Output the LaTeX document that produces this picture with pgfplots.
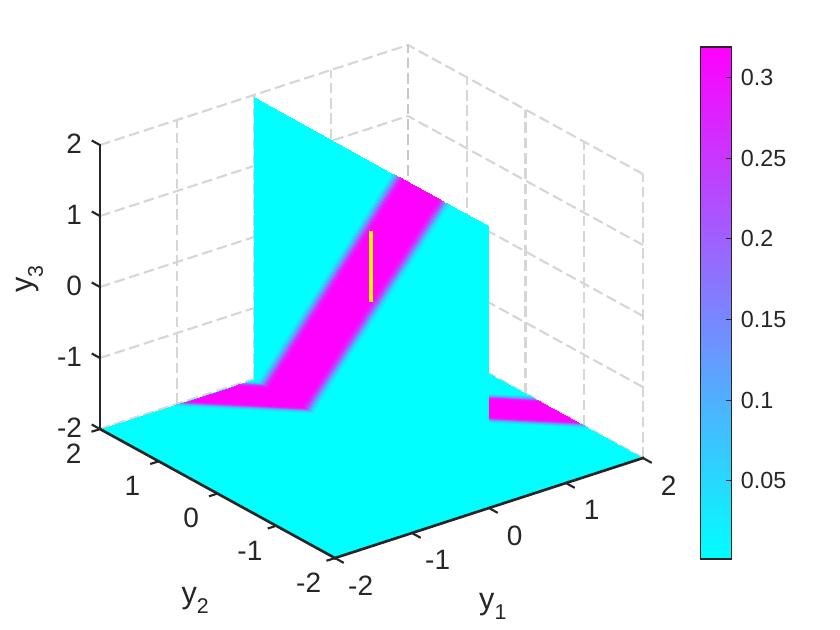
\documentclass[border=0pt]{standalone}
\usepackage{pgfplots}
\pgfplotsset{compat=1.18}
\usepackage{fontspec}
\setmainfont{Liberation Sans}
\definecolor{axc}{gray}{0.15}
\pgfplotsset{colormap={coolmap}{rgb=(0,1,1) rgb=(1,0,1)}}
\newcommand{\sub}[2]{#1\raisebox{-0.35em}{\fontsize{16}{16}\selectfont #2}}
\begin{document}
\begin{tikzpicture}
\path[use as bounding box] (0,0) rectangle (630pt,472.5pt);
\begin{axis}[
  at={(278.6pt,246.35pt)}, anchor=origin,
  x={(57.75pt,18.75pt)}, y={(-44.06pt,24.19pt)}, z={(0pt,53.25pt)},
  xmin=-2,xmax=2,ymin=-2,ymax=2,zmin=-2,zmax=2,
  xtick={-2,-1,0,1,2}, ytick={-2,-1,0,1,2}, ztick={-2,-1,0,1,2},
  clip=false,
  axis x line*=bottom, axis y line*=left, axis z line*=left,
  axis line style={draw=none},
  tick style={draw=none},
  major tick length=0pt,
  grid=major,
  major grid style={color=black!16,line width=1.6pt,dash pattern=on 8pt off 3.5pt},
  tick label style={color=axc,font=\fontsize{21}{25}\selectfont},
  xticklabel style={anchor=center,xshift=19.25pt,yshift=-20.5pt},
  yticklabel style={anchor=center,xshift=-19.75pt,yshift=-18.5pt},
  zticklabel style={anchor=east,xshift=-10pt,yshift=1pt},
  /pgf/number format/assume math mode=true,
  colormap name=coolmap,
  point meta min=0.0016, point meta max=0.319,
  xlabel={\sub{y}{1}}, ylabel={\sub{y}{2}}, zlabel={\sub{y}{3}},
  xlabel style={at={(axis cs:-1.43,-3.94,-2)},anchor=center,color=axc,font=\fontsize{23}{27}\selectfont},
  ylabel style={at={(axis cs:-3.77,-1.94,-2)},anchor=center,color=axc,font=\fontsize{23}{27}\selectfont},
  zlabel style={at={(axis cs:-2.456,2.60,0)},anchor=center,color=axc,font=\fontsize{23}{27}\selectfont},
]
% back corner grid line, drawn twice in the reference
\addplot3[color=black!22,line width=1.6pt,dash pattern=on 8pt off 3.5pt] coordinates {(2,2,-2) (2,2,2)};
% floor y3 = -2
\addplot3[surf,shader=interp,point meta=explicit] coordinates {
(-2,-2,-2) [0.0016] (2,-2,-2) [0.0016]

(-2,2,-2) [0.0016] (2,2,-2) [0.0016]
};
\addplot3[surf,shader=interp,point meta=explicit] coordinates {
(-1.06,2,-2) [0.0016] (-1.01,2,-2) [0.06] (-0.96,2,-2) [0.16] (-0.91,2,-2) [0.27] (-0.86,2,-2) [0.319] (-0.26,2,-2) [0.319] (-0.21,2,-2) [0.27] (-0.16,2,-2) [0.16] (-0.11,2,-2) [0.06] (-0.06,2,-2) [0.0016]

(2,-1.06,-2) [0.0016] (2,-1.01,-2) [0.06] (2,-0.96,-2) [0.16] (2,-0.91,-2) [0.27] (2,-0.86,-2) [0.319] (2,-0.26,-2) [0.319] (2,-0.21,-2) [0.27] (2,-0.16,-2) [0.16] (2,-0.11,-2) [0.06] (2,-0.06,-2) [0.0016]
};
% wall y1 = 0
\addplot3[surf,shader=interp,point meta=explicit] coordinates {
(0,2,-2) [0.0016] (0,1.95,-2) [0.0016] (0,1.90,-2) [0.06] (0,1.85,-2) [0.16] (0,1.80,-2) [0.27] (0,1.75,-2) [0.319] (0,1.185,-2) [0.319] (0,1.135,-2) [0.27] (0,1.085,-2) [0.16] (0,1.035,-2) [0.06] (0,0.985,-2) [0.0016] (0,-2,-2) [0.0016]

(0,2,1.97) [0.0016] (0,-0.34,1.97) [0.0016] (0,-0.39,1.97) [0.06] (0,-0.44,1.97) [0.16] (0,-0.49,1.97) [0.27] (0,-0.54,1.97) [0.319] (0,-1.14,1.97) [0.319] (0,-1.19,1.97) [0.27] (0,-1.24,1.97) [0.16] (0,-1.29,1.97) [0.06] (0,-1.34,1.97) [0.0016] (0,-2,1.97) [0.0016]
};
% yellow segment
\addplot3[color=yellow,line width=3pt] coordinates {(0,0,0) (0,0,1)};
% axis lines and ticks
\addplot3[color=axc,line width=2pt,line cap=rect] coordinates {(-2,-2,-2) (2,-2,-2)};
\addplot3[color=axc,line width=2pt,line cap=rect] coordinates {(-2,-2,-2) (-2,2,-2)};
\addplot3[color=axc,line width=2pt,line cap=rect] coordinates {(-2,2,-2) (-2,2,2)};
\pgfplotsinvokeforeach{-2,-1,0,1,2}{
  \addplot3[color=axc,line width=1.6pt] coordinates {(#1,-2,-2) (#1,-2.15,-2)};
  \addplot3[color=axc,line width=1.6pt] coordinates {(-2,#1,-2) (-2.11,#1,-2)};
  \addplot3[color=axc,line width=1.6pt] coordinates {(-2,2,#1) (-2,2.14,#1)};
}
\end{axis}
\begin{axis}[
  at={(525.4pt,53.25pt)}, anchor=south west,
  width=23.25pt, height=384pt, scale only axis,
  view={0}{90},
  xmin=0,xmax=1,ymin=0.0016,ymax=0.319,
  xtick=\empty,
  ytick={0.05,0.1,0.15,0.2,0.25,0.3},
  yticklabels={0.05,0.1,0.15,0.2,0.25,0.3},
  axis y line*=right, 
  axis line style={color=axc,line width=0.9pt},
  tick style={color=axc,line width=0.8pt},
  tick align=inside, major tick length=4pt,
  axis on top,
  tick label style={color=axc,font=\fontsize{17.5}{21}\selectfont},
  yticklabel style={xshift=3.5pt},
  colormap name=coolmap,
  point meta min=0.0016, point meta max=0.319,
]
\addplot3[surf,shader=interp,point meta=y] coordinates {
(0,0.0016,0) (1,0.0016,0)

(0,0.319,0) (1,0.319,0)
};
\end{axis}
\draw[color=axc,line width=0.9pt] (525.4pt,53.25pt) rectangle (548.65pt,437.25pt);
\end{tikzpicture}
\end{document}
